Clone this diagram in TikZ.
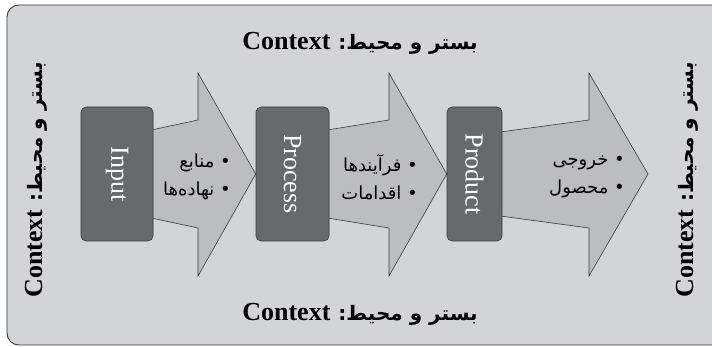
\documentclass[tikz,border=0pt]{standalone}
\usepackage{fontspec}
\setmainfont{Liberation Serif}
\newfontfamily\farsi[Script=Arabic]{DejaVu Sans}
\TeXXeTstate=1
\usetikzlibrary{calc}
\definecolor{bggray}{RGB}{211,212,214}
\definecolor{arrowgray}{RGB}{188,189,192}
\definecolor{boxgray}{RGB}{104,105,108}
\definecolor{linegray}{RGB}{58,58,60}
\pgfdeclarelayer{edgelayer}
\pgfdeclarelayer{nodelayer}
\pgfsetlayers{edgelayer,nodelayer,main}
\newcommand{\persianbold}{\farsi\fontsize{20}{20}\selectfont}
\tikzstyle{stage}=[rectangle,rounded corners=5pt,fill=boxgray,draw=linegray,line width=0.6pt,minimum height=134pt,inner sep=0pt,text=white,font=\fontsize{26}{26}\selectfont]
\tikzstyle{bigarrow}=[fill=arrowgray,draw=linegray,line width=0.6pt,line join=miter]
\tikzstyle{context}=[inner sep=0pt,font=\bfseries\fontsize{26}{26}\selectfont]
\tikzstyle{items}=[align=right,inner sep=0pt,font=\farsi\fontsize{18}{28}\selectfont]

\begin{document}
\begin{tikzpicture}[x=1pt,y=-1pt]
        \useasboundingbox (0,0) rectangle (712,347);
        \begin{pgfonlayer}{nodelayer}
            \node [style = stage, minimum width=72pt] (input) at (117,174) {\rotatebox{-90}{Input}};
            \node [style = stage, minimum width=73pt] (process) at (292.5,174) {\rotatebox{-90}{Process}};
            \node [style = stage, minimum width=55pt] (product) at (474.5,174) {\rotatebox{-90}{Product}};
            \coordinate (tip) at (648,174);

            \node [style = items, anchor=east] (inputitems) at (231,177) {\beginR • منابع\endR\\\beginR • نهاده‌ها\endR};
            \node [style = items, anchor=east] (processitems) at (418,177) {\beginR • فرآیندها\endR\\\beginR • اقدامات\endR};
            \node [style = items, anchor=east] (productitems) at (625,177) {\beginR • خروجی\endR\\\beginR • محصول\endR};

            \node [style = context, anchor=base] (top) at (360,50) {\beginR{\persianbold بستر و محیط:}\hspace{8pt}\beginL Context\endL\endR};
            \node [style = context, anchor=base] (bottom) at (360,320) {\beginR{\persianbold بستر و محیط:}\hspace{8pt}\beginL Context\endL\endR};
            \node [style = context, rotate=90] (left) at (36,180) {\beginR{\persianbold بستر و محیط:}\hspace{8pt}\beginL Context\endL\endR};
            \node [style = context, rotate=90] (right) at (687,180) {\beginR{\persianbold بستر و محیط:}\hspace{8pt}\beginL Context\endL\endR};
        \end{pgfonlayer}

        \begin{pgfonlayer}{edgelayer}
            \draw [fill=bggray, draw=linegray, line width=0.9pt, rounded corners=12pt] (7,5) rectangle (724,345);

            \draw [style = bigarrow] ($(input.east)+(-2,-44)$) -- (198,120) -- (198,73) -- (process.west)
                -- (198,276) -- (198,228) -- ($(input.east)+(-2,44)$) -- cycle;
            \draw [style = bigarrow] ($(process.east)+(-2,-44)$) -- (389,120) -- (389,73) -- (product.west)
                -- (389,276) -- (389,228) -- ($(process.east)+(-2,44)$) -- cycle;
            \draw [style = bigarrow] ($(product.east)+(-2,-42)$) -- (589,120) -- (589,73) -- (tip)
                -- (589,276) -- (589,228) -- ($(product.east)+(-2,42)$) -- cycle;
        \end{pgfonlayer}
    \end{tikzpicture}
\end{document}
